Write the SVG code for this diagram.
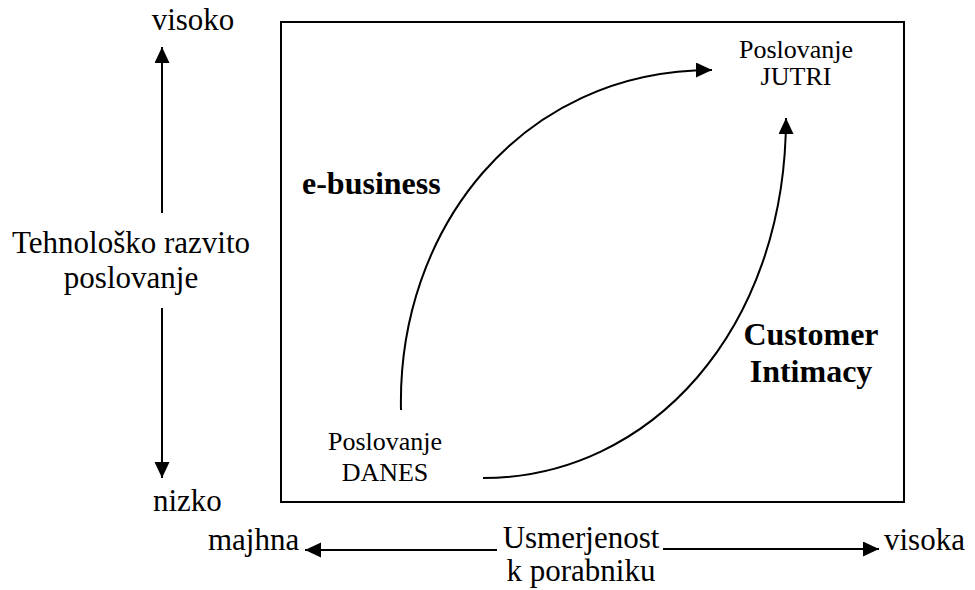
<svg xmlns="http://www.w3.org/2000/svg" width="975" height="590" viewBox="0 0 975 590">
<style>
text{font-family:"Liberation Serif","Times New Roman",serif;fill:#000}
.big{font-size:31px}
.bold{font-size:32px;font-weight:bold}
.small{font-size:26px}
.ln{stroke:#000;stroke-width:2;fill:none}
.cv{stroke:#000;stroke-width:2;fill:none}
</style>
<defs>
<marker id="ah" markerUnits="userSpaceOnUse" markerWidth="17" markerHeight="16" refX="16" refY="7.5" orient="auto" viewBox="0 0 17 16">
<path d="M0,0 L16,7.5 L0,15 z" fill="#000"/>
</marker>
</defs>
<g id="frame">
<rect x="281" y="22" width="623" height="480" fill="none" stroke="#000" stroke-width="2"/>
</g>
<g id="axis-vertical">
<text class="big" x="193" y="30" text-anchor="middle">visoko</text>
<text class="big" x="131" y="253" text-anchor="middle">Tehnološko razvito</text>
<text class="big" x="131" y="288" text-anchor="middle">poslovanje</text>
<text class="big" x="153" y="511">nizko</text>
</g>
<g id="axis-horizontal">
<text class="big" x="208" y="550">majhna</text>
<text class="big" x="581" y="548" text-anchor="middle">Usmerjenost</text>
<text class="big" x="581" y="581" text-anchor="middle">k porabniku</text>
<text class="big" x="884" y="550">visoka</text>
</g>
<g id="node-danes">
<text class="small" x="385" y="450" text-anchor="middle">Poslovanje</text>
<text class="small" x="385" y="481" text-anchor="middle">DANES</text>
</g>
<g id="node-jutri">
<text class="small" x="796" y="58" text-anchor="middle">Poslovanje</text>
<text class="small" x="796" y="85" text-anchor="middle">JUTRI</text>
</g>
<g id="label-ebusiness">
<text class="bold" x="302" y="194">e-business</text>
</g>
<g id="label-customer">
<text class="bold" x="811" y="345" text-anchor="middle">Customer</text>
<text class="bold" x="811" y="382" text-anchor="middle">Intimacy</text>
</g>
<g id="connectors">
<line class="ln" x1="162" y1="213" x2="162" y2="47" marker-end="url(#ah)"/>
<line class="ln" x1="162" y1="308" x2="162" y2="478" marker-end="url(#ah)"/>
<line class="ln" x1="497" y1="550" x2="305" y2="550" marker-end="url(#ah)"/>
<line class="ln" x1="663" y1="549" x2="879" y2="549" marker-end="url(#ah)"/>
<path class="cv" d="M401,410 C397,230 520,70 712,70" marker-end="url(#ah)"/>
<path class="cv" d="M483,478 C650,478 786,330 786,118" marker-end="url(#ah)"/>
</g>
</svg>
